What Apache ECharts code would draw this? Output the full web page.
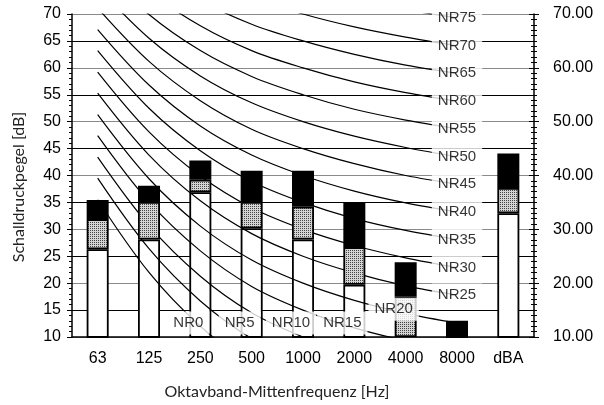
<!DOCTYPE html>
<html>
<head>
<meta charset="utf-8">
<script src="https://cdn.jsdelivr.net/npm/echarts@6/dist/echarts.min.js"></script>
<style>
  html, body { margin: 0; padding: 0; background: #fff; }
  #chart { width: 604px; height: 405px; }
</style>
</head>
<body>
<div id="chart"></div>
<script>
// Octave band centre frequencies plus the A-weighted total
const categories = ['63', '125', '250', '500', '1000', '2000', '4000', '8000', 'dBA'];

// Measured levels per band: upper edge of the white, dotted and black part of each column [dB]
const whiteTop  = [26.3, 28.1, 36.9, 30.2, 28.1, 19.7, 10.0, 10.0, 33.0];
const dottedTop = [31.9, 35.1, 39.2, 35.1, 34.2, 26.7, 17.5, 10.0, 37.7];
const blackTop  = [35.45, 38.1, 42.8, 40.9, 40.9, 35.0, 23.9, 13.0, 44.1];

// Noise rating curves, levels at 63 ... 8000 Hz
const nrLevels = [0, 5, 10, 15, 20, 25, 30, 35, 40, 45, 50, 55, 60, 65, 70, 75];
const nrCurves = [
  [35.5, 22.0, 12.0,  4.8,  0.0, -3.5, -6.1, -8.0],
  [39.5, 26.4, 16.7,  9.7,  5.0,  1.6, -1.0, -2.9],
  [43.4, 30.7, 21.3, 14.5, 10.0,  6.7,  4.2,  2.3],
  [47.4, 35.1, 26.0, 19.4, 15.0, 11.7,  9.3,  7.5],
  [51.3, 39.4, 30.6, 24.3, 20.0, 16.8, 14.4, 12.6],
  [55.3, 43.8, 35.3, 29.2, 25.0, 21.9, 19.5, 17.8],
  [59.2, 48.1, 39.9, 34.0, 30.0, 27.0, 24.7, 22.9],
  [63.2, 52.5, 44.6, 38.9, 35.0, 32.0, 29.8, 28.1],
  [67.1, 56.8, 49.2, 43.8, 40.0, 37.1, 34.9, 33.2],
  [71.1, 61.2, 53.9, 48.6, 45.0, 42.2, 40.0, 38.4],
  [75.0, 65.5, 58.5, 53.5, 50.0, 47.3, 45.2, 43.5],
  [79.0, 69.9, 63.2, 58.4, 55.0, 52.3, 50.3, 48.7],
  [82.9, 74.2, 67.8, 63.2, 60.0, 57.4, 55.4, 53.8],
  [86.9, 78.6, 72.5, 68.1, 65.0, 62.5, 60.5, 59.0],
  [90.8, 82.9, 77.1, 73.0, 70.0, 67.6, 65.7, 64.1],
  [94.8, 87.3, 81.8, 77.9, 75.0, 72.6, 70.8, 69.3]
];
// Band at which each curve's name tag is placed
const nrLabelBand = [2, 3, 4, 5, 6, 7, 7, 7, 7, 7, 7, 7, 7, 7, 7, 7];

const leftTicks = { min: 10, max: 70, interval: 5 };
const rightTicks = { min: 10, max: 70, interval: 10 };

const FONT = '"Liberation Sans", Arial, sans-serif';
const TITLE_FONT = 'Lato, "Open Sans", sans-serif';

// Fine halftone fill for the middle part of the columns
function makeDots() {
  const c = document.createElement('canvas');
  c.width = 2; c.height = 2;
  const g = c.getContext('2d');
  g.fillStyle = '#d4d4d4';
  g.fillRect(0, 0, 2, 2);
  g.fillStyle = '#444';
  g.fillRect(0, 0, 1, 1);
  return c;
}
const dotPattern = { image: makeDots(), repeat: 'repeat' };

const barBase = {
  type: 'bar',
  stack: 'level',
  barWidth: 22,
  clip: true,
  silent: true,
  yAxisIndex: 0
};
const edge = { borderColor: '#000', borderWidth: 1.8 };

const series = [
  Object.assign({}, barBase, {
    name: 'white', z: 2,
    itemStyle: Object.assign({ color: '#fff' }, edge),
    data: whiteTop
  }),
  Object.assign({}, barBase, {
    name: 'dotted', z: 4,
    itemStyle: Object.assign({ color: dotPattern }, edge),
    data: dottedTop.map((v, i) => +(v - whiteTop[i]).toFixed(2))
  }),
  Object.assign({}, barBase, {
    name: 'black', z: 4,
    itemStyle: Object.assign({ color: '#000' }, edge),
    data: blackTop.map((v, i) => +(v - dottedTop[i]).toFixed(2))
  })
];

nrCurves.forEach((curve, k) => {
  series.push({
    type: 'line',
    name: 'NR' + nrLevels[k],
    yAxisIndex: 0,
    data: curve,
    symbol: 'none',
    smooth: 0.35,
    silent: true,
    z: 3,
    lineStyle: { color: '#000', width: 1.2 }
  });
});

// Name tags for the curves
const labelFloor = 12.6;
const tagData = nrLevels.map((lv, k) => {
  const band = nrLabelBand[k];
  const v = nrCurves[k][band];
  const low = band < 7;
  const y = Math.max(v, labelFloor);
  return {
    value: [band, y],
    name: 'NR' + lv,
    label: { offset: [low ? -12 : 0, (low && v > labelFloor) ? -4 : 0] }
  };
});
series.push({
  type: 'scatter',
  yAxisIndex: 0,
  symbolSize: 0,
  silent: true,
  z: 10,
  data: tagData,
  label: {
    show: true,
    position: 'inside',
    formatter: p => p.name,
    backgroundColor: '#fff',
    padding: [4, 6, 3, 6],
    lineHeight: 16,
    fontSize: 15,
    fontFamily: FONT,
    color: '#000'
  }
});

const chart = echarts.init(document.getElementById('chart'), null, { renderer: 'canvas' });
chart.setOption({
  animation: false,
  backgroundColor: '#fff',
  grid: { left: 72, right: 70, top: 14, bottom: 68 },
  xAxis: {
    type: 'category',
    data: categories,
    boundaryGap: true,
    axisLine: { lineStyle: { color: '#000', width: 1.5 } },
    axisTick: { show: false },
    axisLabel: { fontSize: 16, fontFamily: FONT, color: '#000', margin: 14 },
    splitLine: { show: false }
  },
  yAxis: [
    {
      type: 'value', position: 'left',
      min: leftTicks.min, max: leftTicks.max, interval: leftTicks.interval,
      axisLine: { show: true, lineStyle: { color: '#000', width: 1.5 } },
      axisTick: { show: true, length: 5, lineStyle: { color: '#000' } },
      minorTick: { show: true, splitNumber: 5, length: 3, lineStyle: { color: '#000' } },
      axisLabel: { fontSize: 16, fontFamily: FONT, color: '#000', margin: 11 },
      splitLine: { show: true, lineStyle: { color: ['#8a8a8a', '#000'], width: 1.2 } }
    },
    {
      type: 'value', position: 'right',
      min: rightTicks.min, max: rightTicks.max, interval: rightTicks.interval,
      axisLine: { show: true, lineStyle: { color: '#000', width: 1.5 } },
      axisTick: { show: true, length: 5, lineStyle: { color: '#000' } },
      minorTick: { show: true, splitNumber: 10, length: 3, lineStyle: { color: '#000' } },
      axisLabel: { fontSize: 16, fontFamily: FONT, color: '#000', margin: 19,
                   formatter: v => v.toFixed(2) },
      splitLine: { show: false }
    },
    {
      type: 'value', position: 'right',
      min: rightTicks.min, max: rightTicks.max, interval: rightTicks.interval,
      axisLine: { show: false },
      axisTick: { show: true, inside: true, length: 5, lineStyle: { color: '#000' } },
      minorTick: { show: true, splitNumber: 10, length: 3, lineStyle: { color: '#000' } },
      axisLabel: { show: false },
      splitLine: { show: false }
    }
  ],
  graphic: [
    {
      type: 'text', x: 19, y: 187, rotation: Math.PI / 2, z: 100,
      style: { text: 'Schalldruckpegel [dB]', font: '16px ' + TITLE_FONT,
               fill: '#222', align: 'center', verticalAlign: 'middle' }
    },
    {
      type: 'text', x: 277, y: 392, z: 100,
      style: { text: 'Oktavband-Mittenfrequenz [Hz]', font: '16px ' + TITLE_FONT,
               fill: '#222', align: 'center', verticalAlign: 'middle' }
    }
  ],
  series: series
});
</script>
</body>
</html>
